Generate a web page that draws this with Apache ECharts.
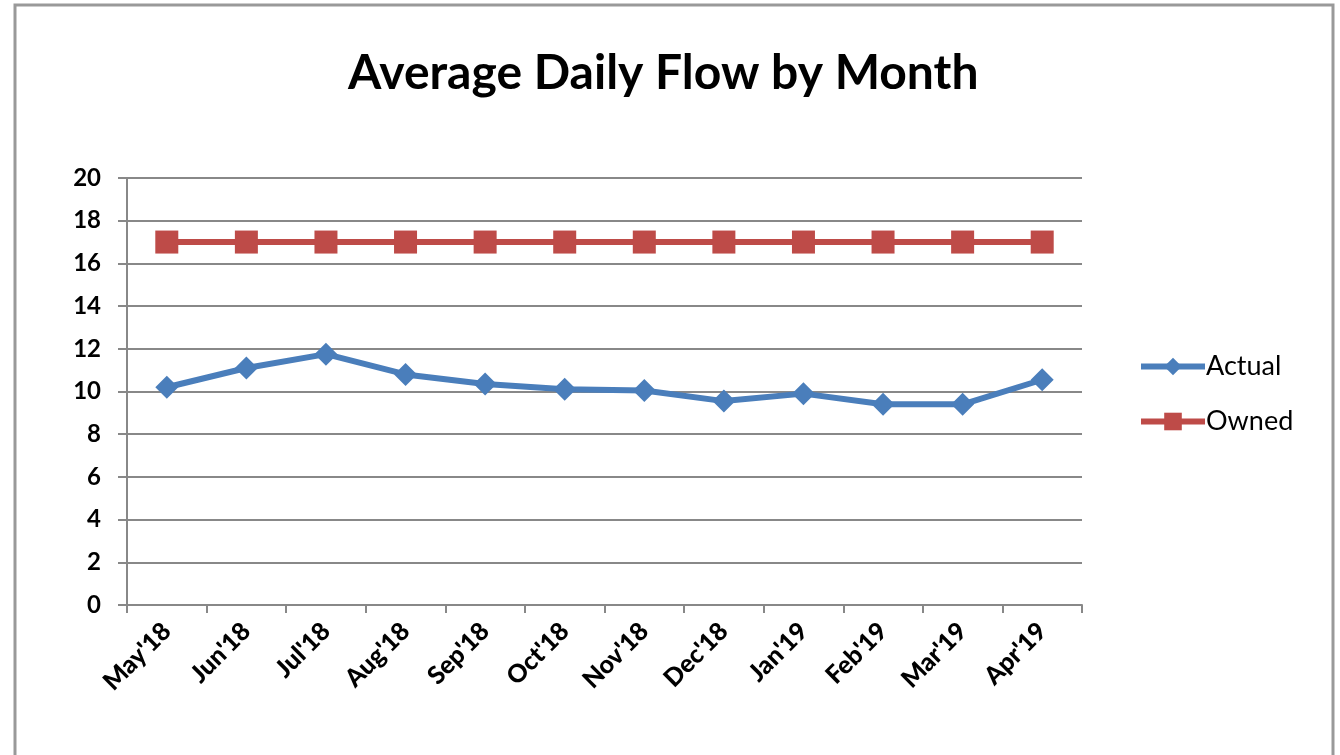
<!DOCTYPE html>
<html>
<head>
<meta charset="utf-8">
<script src="https://cdn.jsdelivr.net/npm/echarts@6/dist/echarts.min.js"></script>
<style>
html,body{margin:0;padding:0;background:#fff;}
#chart{width:1340px;height:755px;}
</style>
</head>
<body>
<div id="chart"></div>
<script>
const categories = ["May'18","Jun'18","Jul'18","Aug'18","Sep'18","Oct'18","Nov'18","Dec'18","Jan'19","Feb'19","Mar'19","Apr'19"];
const actual = [10.2, 11.1, 11.75, 10.8, 10.35, 10.1, 10.05, 9.55, 9.9, 9.4, 9.4, 10.55];
const owned = [17, 17, 17, 17, 17, 17, 17, 17, 17, 17, 17, 17];
const yTicks = {min: 0, max: 20, interval: 2};

const FONT = 'Lato, "Open Sans", sans-serif';
const chart = echarts.init(document.getElementById('chart'));
chart.setOption({
  animation: false,
  backgroundColor: '#fff',
  graphic: [{
    type: 'rect',
    shape: {x: 15, y: 5, width: 1318, height: 780},
    style: {fill: 'none', stroke: '#999', lineWidth: 3},
    silent: true
  }],
  title: {
    text: 'Average Daily Flow by Month',
    left: 348,
    top: 50,
    padding: 0,
    textStyle: {fontFamily: FONT, fontWeight: 'bold', fontSize: 48, color: '#000'}
  },
  legend: {
    orient: 'vertical',
    left: 1133,
    top: 348,
    itemGap: 28,
    itemWidth: 64,
    itemHeight: 22,
    lineStyle: {width: 6},
    textStyle: {fontFamily: FONT, fontSize: 27, color: '#000', padding: [0,0,0,-4]},
    data: ['Actual', 'Owned']
  },
  grid: {left: 127, right: 258, top: 178, bottom: 150, containLabel: false},
  xAxis: {
    type: 'category',
    data: categories,
    boundaryGap: true,
    axisLine: {lineStyle: {color: '#888', width: 2}},
    axisTick: {show: true, length: 8, lineStyle: {color: '#888', width: 2}},
    axisLabel: {
      rotate: 45, interval: 0, margin: 22,
      fontFamily: FONT, fontWeight: 900, fontSize: 25, color: '#000'
    },
    splitLine: {show: false}
  },
  yAxis: {
    type: 'value',
    min: yTicks.min, max: yTicks.max, interval: yTicks.interval,
    axisLine: {show: true, lineStyle: {color: '#888', width: 2}},
    axisTick: {show: true, length: 9, lineStyle: {color: '#888', width: 2}},
    axisLabel: {margin: 26, fontFamily: FONT, fontWeight: 'bold', fontSize: 24, color: '#000'},
    splitLine: {lineStyle: {color: '#888', width: 2}}
  },
  series: [
    {
      name: 'Actual', type: 'line', data: actual,
      symbol: 'diamond', symbolSize: 23,
      lineStyle: {color: '#4a7ebb', width: 6},
      itemStyle: {color: '#4a7ebb'},
      z: 3
    },
    {
      name: 'Owned', type: 'line', data: owned,
      symbol: 'rect', symbolSize: 23,
      lineStyle: {color: '#be4b48', width: 6},
      itemStyle: {color: '#be4b48'},
      z: 2
    }
  ]
});
</script>
</body>
</html>
